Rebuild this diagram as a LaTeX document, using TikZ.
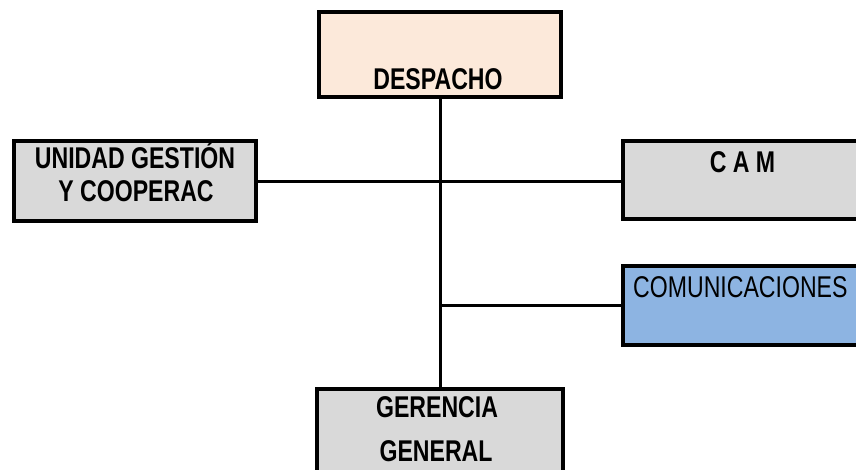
\documentclass[tikz,border=0pt]{standalone}
\usepackage{fontspec}
\setmainfont{Liberation Sans}[FakeStretch=0.77]
\definecolor{peach}{HTML}{FCE9DA}
\definecolor{boxgray}{HTML}{D9D9D9}
\definecolor{boxblue}{HTML}{8DB4E2}
\begin{document}
\begin{tikzpicture}[x=1pt,y=-1pt,
  unit/.style={draw=black, line width=3.5pt, inner sep=0pt, rectangle},
  wire/.style={draw=black, line width=3pt},
  lbl/.style={anchor=base, inner sep=0pt, font=\fontsize{30}{35}\selectfont\bfseries},
  lblreg/.style={anchor=base west, inner sep=0pt, font=\fontsize{30}{35}\selectfont}]
\useasboundingbox (0,0) rectangle (856,469);
\clip (0,0) rectangle (856,469);

% boxes
\node[unit, fill=peach, minimum width=242pt, minimum height=85pt] (desp) at (440,54.5) {};
\node[unit, fill=boxgray, minimum width=242pt, minimum height=80pt] (unidad) at (135,181) {};
\node[unit, fill=boxgray, minimum width=257pt, minimum height=78pt] (cam) at (751.5,180) {};
\node[unit, fill=boxblue, minimum width=257pt, minimum height=79pt] (com) at (751.5,305.5) {};
\node[unit, fill=boxgray, minimum width=246pt, minimum height=101pt] (ger) at (440,439.5) {};

% connectors
\coordinate (j1) at (440,181.5);
\coordinate (j2) at (440,305);
\draw[wire] (desp.south) -- (ger.north);
\draw[wire] (unidad.east |- j1) -- (cam.west |- j1);
\draw[wire] (j2) -- (com.west |- j2);

% labels
\node[lbl] (tdesp) at (438,89) {DESPACHO};
\node[lbl] (tun1) at (135,168) {UNIDAD GESTIÓN};
\node[lbl] (tun2) at (136,201) {Y COOPERAC};
\node[lbl] (tcam) at (742.5,172.5) {C A M};
\node[lblreg] (tcom) at (633,297) {COMUNICACIONES};
\node[lbl] (tger1) at (437,417) {GERENCIA};
\node[lbl] (tger2) at (436,461) {GENERAL};
\end{tikzpicture}
\end{document}
